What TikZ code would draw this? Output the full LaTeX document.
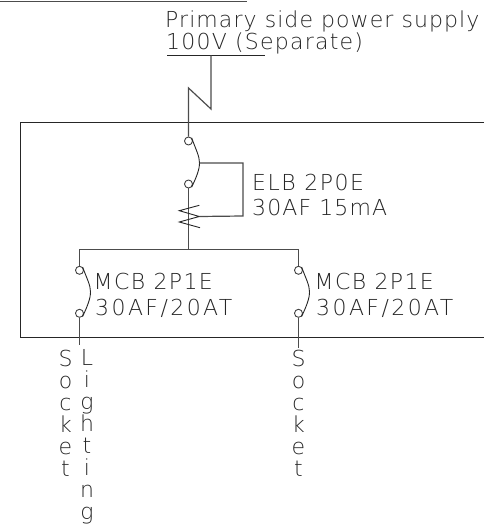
\documentclass[tikz,border=0pt]{standalone}
\usepackage{fontspec}
\setmainfont{DejaVu Sans}[UprightFont=* ExtraLight]
\newcommand{\spaced}[2]{{\addfontfeature{LetterSpace=#1}#2}}
\tikzset{
    wire/.style={draw=black!70,line width=1.2pt},
    edge/.style={draw=black!85,line width=0.9pt},
    contact/.style={circle,draw=black!75,line width=0.9pt,inner sep=0pt,minimum size=8pt},
    lbl/.style={anchor=base west,inner sep=0pt,text=black!85,font=\fontsize{22}{22}\selectfont},
    vlbl/.style={anchor=north,inner sep=0pt,text=black!85,align=center,font=\fontsize{22}{22}\selectfont}
}
\begin{document}
\begin{tikzpicture}[x=1pt,y=-1pt]
    \useasboundingbox (0,0) rectangle (484,529);
    % panel
    \draw[edge] (484,122.5) -- (20,122.5) -- (20,337) -- (484,337);
    \coordinate (topa) at (0,1.5);
    \coordinate (topb) at (247,1.5);
    \draw[wire] (topa) -- (topb);
    % supply
    \node[lbl] (primary) at (165,28) {\spaced{4.9}{Primary side power supply}};
    \node[lbl] (volts) at (166,50) {\spaced{5.6}{100V (Separate)}};
    \coordinate (ula) at (167,55.5);
    \coordinate (ulb) at (265,55.5);
    \coordinate (feed) at (211,55.5);
    \coordinate (kinka) at (211,109);
    \coordinate (kinkb) at (188.5,88);
    \draw[edge] (ula) -- (ulb);
    % ELB
    \node[contact] (elbtop) at (188.5,141) {};
    \node[contact] (elbbot) at (188.5,184) {};
    \coordinate (elbarm) at (199.5,163);
    \coordinate (bushub) at (188.5,249);
    \draw[wire] (feed) -- (kinka) -- (kinkb) -- (elbtop);
    \draw[wire] (elbbot) -- (bushub);
    \draw[edge] (elbtop.north east) .. controls (196,150) and (199.5,156) .. (elbarm)
        .. controls (199.5,170) and (196,178) .. (elbbot.south east);
    \coordinate (coila) at (199.3,205.3);
    \coordinate (coilb) at (179.3,210.7);
    \coordinate (coilc) at (199.3,216.5);
    \coordinate (coild) at (179.3,222);
    \coordinate (coile) at (200,227.7);
    \draw[edge] (coila) -- (coilb) -- (coilc) -- (coild) -- (coile);
    \draw[wire] (elbarm) -| (243,216) -- (coilc);
    \node[lbl] (elbname) at (252,190) {\spaced{7}{ELB 2P0E}};
    \node[lbl] (elbrate) at (252,215) {\spaced{5.1}{30AF 15mA}};
    % bus
    \coordinate (busl) at (79.5,249.3);
    \coordinate (busr) at (298.5,249.3);
    \draw[wire] (busl) -- (busr);
    % MCB left
    \node[contact] (mcbltop) at (79.5,270.3) {};
    \node[contact] (mcblbot) at (79.5,313.3) {};
    \coordinate (mcblout) at (79.5,345);
    \draw[wire] (busl) -- (mcbltop);
    \draw[wire] (mcblbot) -- (mcblout);
    \draw[edge] (mcbltop.north east) .. controls (87,279) and (90.5,285) .. (90.5,292)
        .. controls (90.5,299) and (87,307) .. (mcblbot.south east);
    \node[lbl] (mcblname) at (93.5,289) {\spaced{6.3}{MCB 2P1E}};
    \node[lbl] (mcblrate) at (95,315) {\spaced{11}{30AF/20AT}};
    % MCB right
    \node[contact] (mcbrtop) at (298.5,270.3) {};
    \node[contact] (mcbrbot) at (298.5,313.3) {};
    \coordinate (mcbrout) at (298.5,348);
    \draw[wire] (busr) -- (mcbrtop);
    \draw[wire] (mcbrbot) -- (mcbrout);
    \draw[edge] (mcbrtop.north east) .. controls (306,279) and (309.5,285) .. (309.5,292)
        .. controls (309.5,299) and (306,307) .. (mcbrbot.south east);
    \node[lbl] (mcbrname) at (314.5,289) {\spaced{6.3}{MCB 2P1E}};
    \node[lbl] (mcbrrate) at (316,315) {\spaced{11}{30AF/20AT}};
    % circuits
    \node[vlbl] (socketl) at (65.5,350) {S\\o\\c\\k\\e\\t};
    \node[vlbl] (lighting) at (87,349.5) {L\\i\\g\\h\\t\\i\\n\\g};
    \node[vlbl] (socketr) at (298.5,350) {S\\o\\c\\k\\e\\t};
\end{tikzpicture}
\end{document}
